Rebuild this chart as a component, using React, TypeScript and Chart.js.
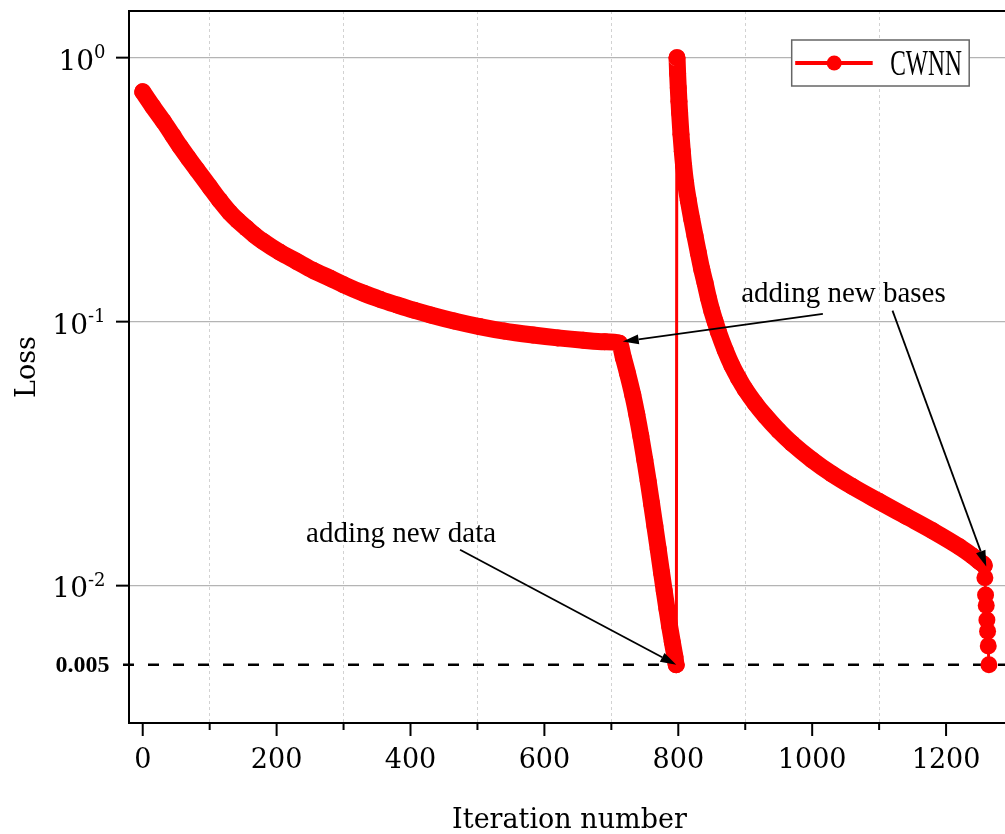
import React, { useEffect, useRef } from 'react';
import { Chart, registerables } from 'chart.js';

Chart.register(...registerables);

// ---------------- data ----------------
const seriesLabel = 'CWNN';

const iterations = [
  0, 15, 31, 45, 56, 68, 81, 100, 115, 130, 142, 155, 167, 180, 205, 230, 255, 280, 300, 330, 355, 380,
  405, 430, 465, 503, 540, 583, 620, 658, 690, 712,
  718, 724, 732, 738, 744, 750, 755, 760, 765, 770, 775, 779, 783, 787, 791, 795, 797,
  798, 799, 800, 801, 802, 804, 806, 808, 811, 815, 820, 825, 830, 835, 840, 845, 850, 855, 860, 870,
  880, 890, 900, 915, 930, 950, 970, 1000, 1030, 1060, 1100, 1140, 1180, 1220, 1240, 1250, 1254, 1257,
  1258, 1259, 1260, 1261, 1262, 1263, 1264,
];

const loss = [
  0.743, 0.653, 0.573, 0.507, 0.46, 0.417, 0.376, 0.324, 0.288, 0.259, 0.2415, 0.226, 0.2128, 0.201, 0.183, 0.169, 0.156, 0.146, 0.138, 0.128, 0.1213, 0.1156,
  0.1104, 0.1059, 0.1005, 0.0957, 0.092, 0.0889, 0.0867, 0.0849, 0.0838, 0.0828,
  0.0729, 0.0639, 0.0527, 0.0445, 0.0368, 0.0299, 0.0249, 0.0205, 0.0168, 0.01374, 0.0112, 0.00953, 0.00815, 0.00702, 0.00612, 0.00537, 0.005,
  1.0, 0.871, 0.767, 0.684, 0.617, 0.513, 0.442, 0.389, 0.335, 0.288, 0.245, 0.211, 0.182, 0.158, 0.14, 0.123, 0.11, 0.1, 0.0912, 0.078,
  0.0682, 0.061, 0.0553, 0.0489, 0.0439, 0.0386, 0.0345, 0.0299, 0.0264, 0.0237, 0.0208, 0.0183, 0.0161, 0.014, 0.0129, 0.0123, 0.0121, 0.0119,
  0.0107, 0.0092, 0.0084, 0.0074, 0.0067, 0.0059, 0.005,
];

const tailStart = 1257;

const xTicks = [0, 100, 200, 300, 400, 500, 600, 700, 800, 900, 1000, 1100, 1200];
const yTickValues = [0.005, 0.01, 0.1, 1];
const yTickBases = ['0.005', '10', '10', '10'];
const yTickExponents = ['', '-2', '-1', '0'];
const thresholdValue = 0.005;

const annotationTexts = ['adding new bases', 'adding new data'];
const annotationTextAnchors = [[894, 0.119], [244, 0.01456]];
const arrowStarts = [[1016, 0.107], [1120, 0.11], [474, 0.01365]];
const arrowEnds = [[717, 0.084], [1260, 0.0118], [797, 0.005]];

// ---------------- styles ----------------
const RED = '#ff0000';
const SERIF = "'DejaVu Serif'";
const TIMES = "'Liberation Serif'";

function drawArrow(ctx: CanvasRenderingContext2D, x1: number, y1: number, x2: number, y2: number) {
  const ang = Math.atan2(y2 - y1, x2 - x1);
  const len = 16;
  const half = 5;
  const bx = x2 - len * Math.cos(ang);
  const by = y2 - len * Math.sin(ang);
  ctx.beginPath();
  ctx.moveTo(x1, y1);
  ctx.lineTo(bx, by);
  ctx.stroke();
  ctx.beginPath();
  ctx.moveTo(x2, y2);
  ctx.lineTo(bx + half * Math.sin(ang), by - half * Math.cos(ang));
  ctx.lineTo(bx - half * Math.sin(ang), by + half * Math.cos(ang));
  ctx.closePath();
  ctx.fill();
}

const decorPlugin = {
  id: 'decor',
  beforeDatasetsDraw(chart: any) {
    const { ctx, chartArea, scales } = chart;
    const y = scales.y.getPixelForValue(thresholdValue);
    ctx.save();
    ctx.strokeStyle = '#000';
    ctx.lineWidth = 2.5;
    ctx.setLineDash([11, 14]);
    ctx.beginPath();
    ctx.moveTo(chartArea.left - 6, y);
    ctx.lineTo(chartArea.right, y);
    ctx.stroke();
    ctx.restore();
  },
  afterDraw(chart: any) {
    const { ctx, chartArea, scales } = chart;
    ctx.save();
    // top frame line
    ctx.strokeStyle = '#000';
    ctx.lineWidth = 2;
    ctx.beginPath();
    ctx.moveTo(chartArea.left - 1, chartArea.top);
    ctx.lineTo(chartArea.right, chartArea.top);
    ctx.stroke();
    // x tick marks (major / minor)
    for (const v of xTicks) {
      const px = scales.x.getPixelForValue(v);
      const len = v % 200 === 0 ? 13 : 7;
      ctx.beginPath();
      ctx.moveTo(px, chartArea.bottom);
      ctx.lineTo(px, chartArea.bottom + len);
      ctx.stroke();
    }
    // y tick labels (power-of-ten with superscript)
    ctx.fillStyle = '#000';
    ctx.textAlign = 'right';
    ctx.textBaseline = 'alphabetic';
    for (let i = 0; i < yTickValues.length; i++) {
      const py = scales.y.getPixelForValue(yTickValues[i]);
      if (!yTickExponents[i]) {
        ctx.font = `bold 24px ${TIMES}`;
        ctx.fillText(yTickBases[i], chartArea.left - 19.5, py + 6.7);
      } else {
        const right = chartArea.left - 23.5;
        ctx.font = `18px ${SERIF}`;
        const ew = ctx.measureText(yTickExponents[i]).width;
        ctx.fillText(yTickExponents[i], right, py + 0.5);
        ctx.font = `28px ${SERIF}`;
        ctx.fillText(yTickBases[i], right - ew, py + 12);
      }
    }
    // arrows
    ctx.strokeStyle = '#000';
    ctx.lineWidth = 1.8;
    ctx.fillStyle = '#000';
    for (let i = 0; i < arrowStarts.length; i++) {
      drawArrow(
        ctx,
        scales.x.getPixelForValue(arrowStarts[i][0]),
        scales.y.getPixelForValue(arrowStarts[i][1]),
        scales.x.getPixelForValue(arrowEnds[i][0]),
        scales.y.getPixelForValue(arrowEnds[i][1])
      );
    }
    // annotation texts
    ctx.font = `29px ${TIMES}`;
    ctx.textBaseline = 'alphabetic';
    ctx.textAlign = 'left';
    for (let i = 0; i < annotationTexts.length; i++) {
      ctx.fillText(
        annotationTexts[i],
        scales.x.getPixelForValue(annotationTextAnchors[i][0]),
        scales.y.getPixelForValue(annotationTextAnchors[i][1])
      );
    }
    // legend
    const lw = 177.5;
    const lh = 46;
    const lx = chartArea.right - 218.3;
    const ly = chartArea.top + 29;
    ctx.fillStyle = '#fff';
    ctx.fillRect(lx, ly, lw, lh);
    ctx.strokeStyle = '#666';
    ctx.lineWidth = 1.5;
    ctx.strokeRect(lx, ly, lw, lh);
    ctx.strokeStyle = RED;
    ctx.lineWidth = 4;
    ctx.beginPath();
    ctx.moveTo(lx + 3.5, ly + 23);
    ctx.lineTo(lx + 81, ly + 23);
    ctx.stroke();
    ctx.fillStyle = RED;
    ctx.beginPath();
    ctx.arc(lx + 42.5, ly + 23, 7.5, 0, Math.PI * 2);
    ctx.fill();
    ctx.fillStyle = '#000';
    ctx.translate(lx + 98.5, ly + 35);
    ctx.scale(0.67, 1);
    ctx.font = `35px ${TIMES}`;
    ctx.fillText(chart.data.datasets[0].label, 0, 0);
    ctx.restore();
  },
};

export default function App() {
  const ref = useRef<HTMLCanvasElement>(null);
  useEffect(() => {
    const points = iterations.map((x, i) => ({ x, y: loss[i] }));
    const chart = new Chart(ref.current as HTMLCanvasElement, {
      type: 'line',
      data: {
        datasets: [
          {
            label: seriesLabel,
            data: points,
            borderColor: RED,
            backgroundColor: RED,
            borderWidth: 17,
            borderJoinStyle: 'round',
            borderCapStyle: 'round',
            pointRadius: 8.5,
            pointHoverRadius: 8.5,
            pointBackgroundColor: RED,
            pointBorderWidth: 0,
            cubicInterpolationMode: 'monotone',
            segment: {
              borderWidth: (c: any) => {
                const a = c.p0.parsed;
                const b = c.p1.parsed;
                if (b.y / a.y > 10) return 3;
                if (a.x >= tailStart) return 3;
                return 17;
              },
            },
          } as any,
        ],
      },
      options: {
        responsive: false,
        animation: false,
        events: [],
        layout: { autoPadding: false, padding: { top: 11, left: 0, right: 0, bottom: 0 } },
        plugins: { legend: { display: false }, tooltip: { enabled: false } },
        scales: {
          x: {
            type: 'linear',
            min: -20.5,
            max: 1295.5,
            afterBuildTicks: (scale: any) => {
              scale.ticks = xTicks.map((v) => ({ value: v }));
            },
            afterFit: (scale: any) => {
              scale.height = 111;
              scale.paddingLeft = 0;
              scale.paddingRight = 0;
            },
            ticks: {
              autoSkip: false,
              maxRotation: 0,
              minRotation: 0,
              padding: 22,
              color: '#000',
              font: { family: SERIF, size: 27 },
              callback: (v: any) => (Number(v) % 200 === 0 ? String(v) : ''),
            },
            grid: {
              drawTicks: false,
              color: (c: any) => (c.tick && c.tick.value % 200 !== 0 ? '#d2d2d2' : 'rgba(0,0,0,0)'),
              lineWidth: 1,
            },
            border: { display: true, color: '#000', width: 2, dash: [3, 3] },
            title: {
              display: true,
              text: 'Iteration number',
              color: '#000',
              font: { family: SERIF, size: 27, lineHeight: 1 },
              padding: { top: 0, bottom: 0 },
            },
          },
          y: {
            type: 'logarithmic',
            min: 0.00301,
            max: 1.503,
            afterBuildTicks: (scale: any) => {
              scale.ticks = yTickValues.map((v) => ({ value: v }));
            },
            afterFit: (scale: any) => {
              scale.width = 129;
              scale.paddingTop = 0;
              scale.paddingBottom = 0;
            },
            ticks: { display: false },
            grid: {
              drawTicks: true,
              tickLength: 13,
              tickWidth: 2,
              tickColor: (c: any) =>
                c.tick && Math.abs(c.tick.value - thresholdValue) < 1e-9 ? 'rgba(0,0,0,0)' : '#000',
              color: (c: any) =>
                c.tick && Math.abs(c.tick.value - thresholdValue) < 1e-9 ? 'rgba(0,0,0,0)' : '#b4b4b4',
              lineWidth: 1.3,
            },
            border: { display: true, color: '#000', width: 2 },
            title: {
              display: true,
              text: 'Loss',
              color: '#000',
              font: { family: SERIF, size: 27, lineHeight: 1 },
              padding: { top: 14, bottom: 0 },
            },
          },
        },
      },
      plugins: [decorPlugin],
    } as any);
    return () => chart.destroy();
  }, []);

  return (
    <div
      style={{
        position: 'absolute',
        left: 0,
        top: 0,
        width: 1005,
        height: 834,
        overflow: 'hidden',
        background: '#fff',
      }}
    >
      <canvas ref={ref} width={1010} height={834} style={{ display: 'block', width: 1010, height: 834 }} />
    </div>
  );
}
